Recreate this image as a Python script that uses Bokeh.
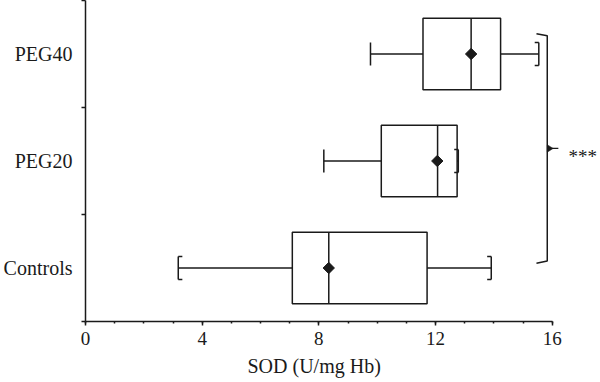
import numpy as np
from bokeh.plotting import figure
from bokeh.models import Range1d, FixedTicker, Label, Title
from bokeh.embed import file_html
from bokeh.resources import INLINE

# ---- data ----
groups = ["Controls", "PEG20", "PEG40"]
whisker_low = [3.18, 8.17, 9.77]
q1 = [7.09, 10.14, 11.57]
median = [8.34, 12.07, 13.22]
q3 = [11.71, 12.74, 14.23]
whisker_high = [13.91, 12.78, 15.54]
mean = [8.34, 12.06, 13.22]
left_hook = [True, False, False]
right_hook = [True, True, True]
x_ticks = [0, 4, 8, 12, 16]
x_label = "SOD (U/mg Hb)"
signif = "***"

FONT = "Liberation Serif"
INK = "#1a1a1a"
BOX_H = 0.333
CAP_H = 0.108
HOOK = 0.14
LW = 1.5

pos = [i + 0.5 for i in range(len(groups))]

p = figure(width=600, height=382, output_backend="svg", toolbar_location=None,
           x_range=Range1d(0, 17.655), y_range=Range1d(0, 3.0),
           min_border_left=85, min_border_right=0, min_border_top=0,
           min_border_bottom=61)
p.outline_line_color = None
p.grid.visible = False
p.background_fill_color = "white"

# boxes
p.quad(left=q1, right=q3, bottom=[c - BOX_H for c in pos], top=[c + BOX_H for c in pos],
       fill_color="white", line_color=INK, line_width=LW)
# medians
p.segment(x0=median, x1=median, y0=[c - BOX_H for c in pos], y1=[c + BOX_H for c in pos],
          line_color=INK, line_width=LW)
# whiskers
p.segment(x0=whisker_low, x1=q1, y0=pos, y1=pos, line_color=INK, line_width=LW)
p.segment(x0=q3, x1=whisker_high, y0=pos, y1=pos, line_color=INK, line_width=LW)
# caps
for xs in (whisker_low, whisker_high):
    p.segment(x0=xs, x1=xs, y0=[c - CAP_H for c in pos], y1=[c + CAP_H for c in pos],
              line_color=INK, line_width=LW)
# cap hooks
hx0, hx1, hy = [], [], []
for i, c in enumerate(pos):
    if left_hook[i]:
        for yy in (c - CAP_H, c + CAP_H):
            hx0.append(whisker_low[i]); hx1.append(whisker_low[i] + HOOK); hy.append(yy)
    if right_hook[i]:
        for yy in (c - CAP_H, c + CAP_H):
            hx0.append(whisker_high[i]); hx1.append(whisker_high[i] - HOOK); hy.append(yy)
p.segment(x0=hx0, x1=hx1, y0=hy, y1=hy, line_color=INK, line_width=LW)

# means
p.scatter(x=mean, y=pos, marker="square", angle=np.pi / 4, size=8,
          fill_color=INK, line_color=INK)

# significance brace
bx = max(whisker_high) + 0.29
btop = pos[-1] + 0.19
bbot = pos[0] + 0.045
bmid = (btop + bbot) / 2
p.line(x=[bx - 0.37, bx, bx, bx - 0.37], y=[btop, btop - 0.02, bbot + 0.02, bbot],
       line_color=INK, line_width=LW)
p.line(x=[bx, bx + 0.38], y=[bmid, bmid], line_color=INK, line_width=1.2)
p.patch(x=[bx, bx + 0.2, bx], y=[bmid + 0.035, bmid, bmid - 0.035],
        fill_color=INK, line_color=INK, line_width=0.5)
p.add_layout(Label(x=bx + 0.73, y=bmid - 0.08, text=signif, text_font=FONT,
                   text_font_size="19px", text_color=INK, text_baseline="alphabetic",
                   text_align="left"))

# x axis title (placed as a below-title so it can sit under the bounded axis)
p.add_layout(Title(text=x_label, align="left", offset=162, standoff=11,
                   text_font=FONT, text_font_size="20px", text_font_style="normal",
                   text_color=INK), "below")

# axes
xa = p.xaxis[0]
xa.ticker = FixedTicker(ticks=x_ticks, minor_ticks=list(range(0, 17)))
xa.bounds = (0, 16)
ya = p.yaxis[0]
ya.ticker = FixedTicker(ticks=pos, minor_ticks=[0, 1, 2, 3])
ya.major_label_overrides = {c: g for c, g in zip(pos, groups)}
ya.major_tick_out = 0
ya.major_tick_in = 0
ya.minor_tick_out = 4
ya.minor_tick_in = 0
ya.major_label_standoff = 9

xa.major_tick_out = 4
xa.major_tick_in = 0
xa.minor_tick_out = 2
xa.minor_tick_in = 0
xa.major_label_standoff = 6

for ax in (xa, ya):
    ax.axis_line_color = INK
    ax.axis_line_width = LW
    ax.major_tick_line_color = INK
    ax.minor_tick_line_color = INK
    ax.major_tick_line_width = LW
    ax.minor_tick_line_width = LW
    ax.major_label_text_font = FONT
    ax.major_label_text_color = INK
xa.major_label_text_font_size = "19px"
ya.major_label_text_font_size = "20px"

open("out.html", "w").write(file_html(p, INLINE))
